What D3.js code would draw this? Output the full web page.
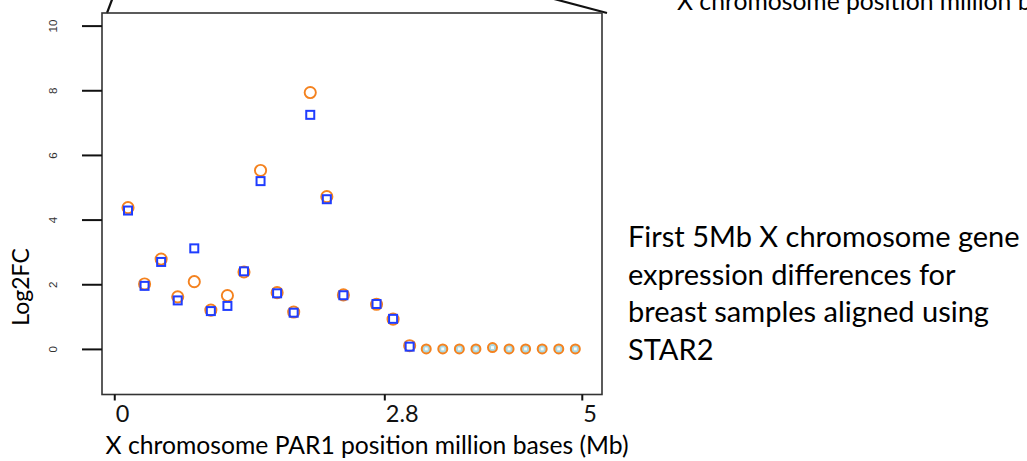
<!DOCTYPE html>
<html><head><meta charset="utf-8">
<script src="https://cdn.jsdelivr.net/npm/d3@7"></script>
<style>body{margin:0;background:#fff}svg{display:block}</style>
</head><body>
<svg id="chart" width="1027" height="461"></svg>
<script>
// ---- data (gene index along first 5 Mb of X chromosome PAR1) ----
const geneIndex = d3.range(28);
const log2fcCircle = [4.37, 2.01, 2.78, 1.61, 2.08, 1.20, 1.65, 2.38, 5.52, 1.74, 1.14, 7.93, 4.71, 1.67, null, 1.38, 0.92, 0.10, 0, 0, 0, 0, 0.04, 0, 0, 0, 0, 0];
const log2fcSquare = [4.28, 1.95, 2.69, 1.50, 3.11, 1.17, 1.33, 2.40, 5.19, 1.72, 1.12, 7.24, 4.63, 1.66, null, 1.39, 0.93, 0.07, 0, 0, 0, 0, 0.04, 0, 0, 0, 0, 0];
const yTicks = [0, 2, 4, 6, 8, 10];
const xTickMb = [0, 2.8, 5];
const xTickLabels = ["0", "2.8", "5"];
const xTickGeneIndex = [-0.83, 15.47, 27.39];
const noteLines = ["First 5Mb X chromosome gene", "expression differences for", "breast samples aligned using", "STAR2"];
const xTitle = "X chromosome PAR1 position million bases (Mb)";
const yTitle = "Log2FC";
const topTitle = "X chromosome position million bases (Mb)";

// ---- layout ----
const W = 1027, H = 461;
const box = {left: 102, right: 602, top: 13, bottom: 394.5};
const FONT = "Lato, 'Open Sans', sans-serif";
const ORANGE = "#f4821f", BLUE = "#1f3dff", LIGHT = "#a9d7e1";

const svg = d3.select("#chart");

const x = d3.scaleLinear().domain([-1.57, 28.61]).range([box.left, box.right]);
const y = d3.scaleLinear().domain([-1.41, 10.39]).range([box.bottom, box.top]);
const xMb = d3.scaleLinear().domain(xTickMb).range(xTickGeneIndex.map(x));

// callout lines
svg.append("line").attr("x1", box.left + 5).attr("y1", box.top).attr("x2", box.left + 11).attr("y2", box.top - 16)
  .attr("stroke", "#111").attr("stroke-width", 2.2);
svg.append("line").attr("x1", box.right - 48).attr("y1", box.top - 14).attr("x2", box.right + 5).attr("y2", box.top)
  .attr("stroke", "#111").attr("stroke-width", 2.2);

// plot box
svg.append("rect").attr("x", box.left).attr("y", box.top)
  .attr("width", box.right - box.left).attr("height", box.bottom - box.top)
  .attr("fill", "none").attr("stroke", "#333").attr("stroke-width", 1.6);

// y axis
const gy = svg.append("g").attr("transform", `translate(${box.left},0)`)
  .call(d3.axisLeft(y).tickValues(yTicks).tickSize(20).tickSizeOuter(0));
gy.select(".domain").remove();
gy.selectAll(".tick line").attr("stroke", "#111").attr("stroke-width", 2);
gy.selectAll(".tick text")
  .attr("x", 0).attr("y", 0).attr("dy", null)
  .attr("text-anchor", "middle")
  .attr("transform", "translate(-45.5,0) rotate(-90)")
  .attr("font-family", "'Liberation Sans', Arial, sans-serif")
  .attr("font-size", 11.5).attr("fill", "#333");

// x axis
const gx = svg.append("g").attr("transform", `translate(0,${box.bottom})`)
  .call(d3.axisBottom(xMb).tickValues(xTickMb).tickFormat((d, i) => xTickLabels[i]).tickSize(6).tickSizeOuter(0));
gx.select(".domain").remove();
gx.selectAll(".tick line").attr("stroke", "#111").attr("stroke-width", 2);
gx.selectAll(".tick text")
  .attr("x", 1).attr("y", 27.8).attr("dy", null)
  .attr("text-anchor", "start")
  .attr("font-family", FONT).attr("font-size", 23.5).attr("fill", "#111");

// points
const pts = geneIndex.map(i => ({i, c: log2fcCircle[i], s: log2fcSquare[i]}));
const plain = pts.filter(d => d.c !== null && !(d.c === 0 || (d.c < 0.05 && d.i > 17)));
const flat = pts.filter(d => d.c !== null && !plain.includes(d));

svg.append("g").selectAll("circle").data(plain).join("circle")
  .attr("cx", d => x(d.i)).attr("cy", d => y(d.c)).attr("r", 5.6)
  .attr("fill", "none").attr("stroke", ORANGE).attr("stroke-width", 1.9);

const sq = 8;
svg.append("g").selectAll("rect").data(plain).join("rect")
  .attr("x", d => x(d.i) - sq / 2).attr("y", d => y(d.s) - sq / 2)
  .attr("width", sq).attr("height", sq)
  .attr("fill", "none").attr("stroke", BLUE).attr("stroke-width", 2);

const gf = svg.append("g");
gf.selectAll("circle").data(flat).join("circle")
  .attr("cx", d => x(d.i)).attr("cy", d => y(d.c)).attr("r", 4.5)
  .attr("fill", LIGHT).attr("stroke", ORANGE).attr("stroke-width", 2);
gf.selectAll("rect").data(flat).join("rect")
  .attr("x", d => x(d.i) - 1.5).attr("y", d => y(d.s) - 1.5)
  .attr("width", 3).attr("height", 3).attr("fill", "#f4fbfd");

// titles
svg.append("text").attr("x", 105.6).attr("y", 454)
  .attr("font-family", FONT).attr("font-size", 24.7).attr("fill", "#000").text(xTitle);

svg.append("text").attr("transform", `translate(28.5,${287}) rotate(-90)`)
  .attr("text-anchor", "middle")
  .attr("font-family", FONT).attr("font-size", 23).attr("fill", "#000").text(yTitle);

svg.append("text").attr("x", 677).attr("y", 9.5)
  .attr("font-family", FONT).attr("font-size", 24.7).attr("fill", "#000").text(topTitle);

svg.append("g").selectAll("text").data(noteLines).join("text")
  .attr("x", 628).attr("y", (d, i) => 247 + i * 37.5)
  .attr("font-family", FONT).attr("font-size", 29).attr("fill", "#000")
  .text(d => d);
</script>
</body></html>
